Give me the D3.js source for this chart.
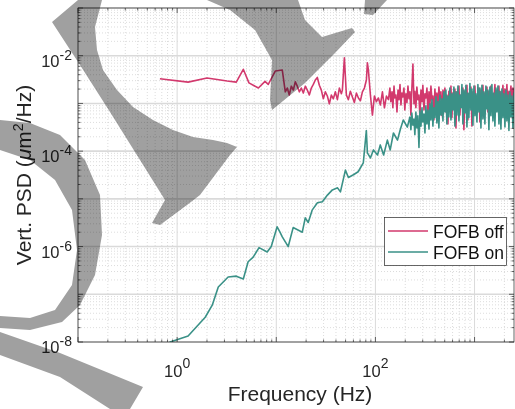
<!DOCTYPE html>
<html>
<head>
<meta charset="utf-8">
<script src="https://cdn.jsdelivr.net/npm/d3@7"></script>
<style>
  html, body { margin: 0; padding: 0; background: #fff; }
  svg { display: block; font-family: 'Liberation Sans', Arial, sans-serif; }
</style>
</head>
<body>
<div id="chart"></div>
<script>
// [frequency (Hz), PSD (um^2/Hz)], low/mid band
const offLow = [
  [0.67, 3.3e-3], [1.29, 2.8e-3], [2.0, 3.4e-3], [3.2, 2.95e-3], [3.95, 2.8e-3],
  [4.65, 5.2e-3], [5.3, 2.7e-3], [6.6, 2.1e-3], [7.7, 2.9e-3], [8.3, 2.5e-3],
  [9.8, 4.8e-3], [11.5, 5.0e-3],
  [12.33, 1.75e-3], [12.92, 2.1e-3], [13.53, 1.5e-3], [14.18, 2.3e-3], [14.85, 1.9e-3],
  [15.56, 2.85e-3], [16.3, 2.3e-3], [17.08, 1.75e-3], [17.88, 2.1e-3], [18.74, 1.65e-3],
  [19.63, 2.3e-3], [20.56, 1.9e-3], [21.54, 1.5e-3], [22.57, 2.1e-3], [23.64, 2.5e-3],
  [24.77, 3.1e-3], [25.95, 3.5e-3], [27.19, 2.4e-3], [28.48, 1.9e-3], [29.84, 1.25e-3],
  [31.26, 1.75e-3], [32.75, 1.43e-3], [34.31, 9.8e-4], [35.94, 1.5e-3], [37.65, 1.25e-3],
  [39.45, 1.75e-3], [41.33, 1.2e-3], [43.29, 2.1e-3], [45.36, 1.6e-3], [46.42, 1.9e-3],
  [48.63, 9.0e-3], [50.95, 1.5e-3], [53.37, 1.2e-3], [55.91, 1.8e-3], [58.58, 1.37e-3],
  [61.37, 1.05e-3], [64.29, 1.65e-3], [67.35, 1.3e-3], [70.56, 1.14e-3], [73.92, 1.75e-3],
  [77.43, 2.1e-3], [81.11, 3.1e-3], [83.02, 7.1e-3], [84.98, 5.0e-3], [89.02, 1.5e-3],
  [93.26, 5.7e-4], [97.7, 1.43e-3], [102.35, 1.09e-3], [107.2, 1.3e-3], [112.3, 9.3e-4],
  [117.7, 1.75e-3], [123.3, 8.1e-4], [129.2, 1.43e-3], [135.3, 1.2e-3]
];
const onLow = [
  [0.67, 5e-9], [0.85, 1.0e-8], [1.29, 1.34e-8], [1.92, 3.3e-8], [2.26, 5.9e-8],
  [2.6, 1.42e-7], [3.27, 2.3e-7], [3.95, 2.4e-7], [4.65, 2.1e-7], [5.2, 4.8e-7],
  [5.85, 6.0e-7], [6.7, 9.5e-7], [8.1, 7.7e-7], [8.9, 1.0e-6], [10.2, 2.6e-6],
  [10.9, 2.0e-6], [11.5, 1.6e-6], [13.2, 1.0e-6], [14.8, 2.5e-6], [18.3, 2.0e-6],
  [19.6, 4.0e-6], [21.0, 3.2e-6], [23.0, 5.8e-6], [26.0, 8.3e-6], [29.2, 8.7e-6],
  [32.8, 1.2e-5], [36.8, 1.54e-5], [41.5, 1.7e-5], [44.4, 1.4e-5], [49.8, 4.0e-5],
  [53.4, 2.8e-5], [60, 3.2e-5], [67, 3.7e-5], [75.5, 5.7e-5], [81, 2.7e-4],
  [83, 9.2e-5], [89, 7.2e-5], [95.5, 1.06e-4], [105, 8.3e-5], [112, 1.35e-4],
  [121, 8.3e-5], [132, 1.7e-4], [141, 1.06e-4], [152, 2.4e-4], [167, 1.7e-4],
  [178, 2.8e-4], [191, 4.5e-4], [210, 3.2e-4]
];

// dense high-frequency part: shared bins (Hz) and PSD per series
const hfFreq = [
  140, 143, 147, 150, 154, 157, 161, 165, 169, 173,
  177, 181, 185, 189, 194, 198, 203, 208, 213, 218,
  223, 228, 233, 239, 245, 250, 256, 262, 268, 275,
  281, 288, 295, 301, 309, 316, 323, 331, 339, 347,
  355, 363, 372, 380, 389, 398, 408, 417, 427, 437,
  447, 458, 469, 480, 491, 502, 514, 526, 539, 551,
  564, 578, 591, 605, 619, 634, 649, 664, 680, 696,
  712, 729, 746, 763, 781, 800, 818, 838, 857, 877,
  898, 919, 941, 963, 986, 1009, 1032, 1057, 1081, 1107,
  1133, 1160, 1187, 1215, 1243, 1272, 1302, 1333, 1364, 1396,
  1429, 1463, 1497, 1532, 1568, 1605, 1643, 1682, 1721, 1762,
  1803, 1845, 1889, 1933, 1979, 2025, 2073, 2121, 2171, 2222,
  2274, 2328, 2383, 2439, 2496, 2555, 2615
];
const offHf = [
  2.1e-3, 1.09e-3, 1.75e-3, 8.1e-4, 2.3e-3, 1.3e-3, 1.5e-3, 6.6e-4, 1.9e-3, 1.2e-3,
  2.5e-3, 9.3e-4, 1.65e-3, 1.37e-3, 2.1e-3, 7.3e-4, 1.6e-3, 1.05e-3, 2.3e-3, 1.25e-3,
  1.75e-3, 5.7e-4, 2.0e-3, 6.7e-3, 9.8e-4, 1.8e-3, 8.1e-4, 2.2e-3, 1.2e-3, 1.5e-3,
  5.0e-4, 1.9e-3, 1.09e-3, 2.4e-3, 7.3e-4, 1.6e-3, 1.3e-3, 2.1e-3, 6.3e-4, 1.75e-3,
  9.3e-4, 2.3e-3, 1.2e-3, 1.43e-3, 4.5e-4, 2.0e-3, 1.05e-3, 1.65e-3, 7.3e-4, 2.2e-3,
  1.25e-3, 1.75e-3, 5.5e-4, 1.9e-3, 9.8e-4, 2.1e-3, 6.6e-4, 1.5e-3, 3.7e-4, 1.8e-3,
  8.9e-4, 2.3e-3, 5.0e-4, 1.65e-3, 1.14e-3, 2.0e-3, 3.05e-4, 1.75e-3, 7.7e-4, 2.3e-3,
  5.7e-4, 1.5e-3, 9.8e-4, 2.1e-3, 2.8e-4, 1.8e-3, 7.3e-4, 2.4e-3, 4.5e-4, 1.6e-3,
  1.09e-3, 2.2e-3, 3.35e-4, 1.75e-3, 8.1e-4, 2.3e-3, 6.0e-4, 1.43e-3, 1.2e-3, 2.1e-3,
  4.1e-4, 1.9e-3, 9.3e-4, 2.4e-3, 5.2e-4, 1.65e-3, 1.25e-3, 2.2e-3, 6.6e-4, 1.8e-3,
  1.05e-3, 2.3e-3, 7.3e-4, 1.6e-3, 1.3e-3, 2.5e-3, 8.1e-4, 1.9e-3, 1.14e-3, 2.3e-3,
  6.6e-4, 1.75e-3, 1.25e-3, 2.4e-3, 8.9e-4, 2.0e-3, 1.09e-3, 2.5e-3, 7.7e-4, 1.8e-3,
  1.37e-3, 2.3e-3, 9.8e-4, 2.1e-3, 1.2e-3, 2.4e-3, 1.05e-3
];
// FOFB on dense part starts at the 223 Hz bin
const onHf = [
  5.2e-4, 2.8e-4, 6.3e-4, 3.5e-4, 4.7e-4, 2.2e-4, 6.6e-4, 3.05e-4, 5.5e-4, 1.2e-4,
  7.0e-4, 3.35e-4, 8.1e-4, 4.1e-4, 6.0e-4, 2.4e-4, 8.9e-4, 3.7e-4, 7.3e-4, 2.9e-4,
  9.8e-4, 4.5e-4, 1.2e-3, 3.35e-4, 8.1e-4, 5.0e-4, 1.37e-3, 3.9e-4, 1.09e-3, 3.05e-4,
  1.5e-3, 5.7e-4, 1.25e-3, 4.3e-4, 1.75e-3, 6.6e-4, 1.9e-3, 3.7e-4, 1.43e-3, 5.2e-4,
  2.1e-3, 4.5e-4, 1.6e-3, 7.3e-4, 2.2e-3, 3.35e-4, 1.75e-3, 5.7e-4, 2.3e-3, 4.3e-4,
  1.5e-3, 8.1e-4, 2.5e-3, 3.7e-4, 1.9e-3, 6.3e-4, 2.4e-3, 3.2e-4, 1.65e-3, 5.0e-4,
  2.6e-3, 7.3e-4, 2.0e-3, 3.5e-4, 2.3e-3, 5.5e-4, 1.6e-3, 4.1e-4, 2.5e-3, 6.6e-4,
  2.1e-3, 3.05e-4, 2.4e-3, 4.7e-4, 1.75e-3, 3.7e-4, 2.3e-3, 7.7e-4, 1.9e-3, 2.8e-4,
  2.2e-3, 5.5e-4, 2.5e-3, 4.3e-4, 1.65e-3, 3.35e-4, 2.1e-3, 6.6e-4, 2.3e-3, 3.7e-4,
  1.8e-3, 2.9e-4, 2.0e-3, 5.0e-4, 1.6e-3, 3.2e-4, 1.9e-3, 4.3e-4, 1.5e-3, 2.7e-4,
  1.75e-3, 5.2e-4, 1.43e-3, 3.05e-4, 1.65e-3, 4.1e-4, 1.37e-3
];

const seriesNames = ['FOFB off', 'FOFB on'];
const seriesColors = ['#d2396d', '#3a9187'];
const xTickExps = [0, 2];
const yTickExps = [-8, -6, -4, -2];

const fofbOff = offLow.concat(hfFreq.map((f, i) => [f, offHf[i]]));
const fofbOn = onLow.concat(hfFreq.slice(20).map((f, i) => [f, onHf[i]]));

const W = 515, H = 409;
const plot = { left: 78, right: 514, top: 8, bottom: 342 };
const ink = '#262626';

const svg = d3.select('#chart').append('svg')
  .attr('width', W).attr('height', H);

const x = d3.scaleLog().domain([0.1, 2500]).range([plot.left, plot.right]);
const y = d3.scaleLog().domain([1e-8, 1e-1]).range([plot.bottom, plot.top]);

// decade + minor grid positions
function logGrid(lo, hi) {
  const major = [], minor = [];
  for (let e = Math.floor(Math.log10(lo)); e <= Math.ceil(Math.log10(hi)); e++) {
    for (let k = 1; k < 10; k++) {
      const v = k * Math.pow(10, e);
      if (v < lo * 0.999 || v > hi * 1.001) continue;
      (k === 1 ? major : minor).push(v);
    }
  }
  return { major, minor };
}
const xg = logGrid(0.1, 2500);
const yg = logGrid(1e-8, 1e-1);

const grid = svg.append('g').attr('class', 'grid');
grid.selectAll('line.xminor').data(xg.minor).join('line')
  .attr('x1', d => x(d)).attr('x2', d => x(d))
  .attr('y1', plot.top).attr('y2', plot.bottom)
  .attr('stroke', '#cdcdcd').attr('stroke-width', 0.7).attr('stroke-dasharray', '1 2');
grid.selectAll('line.yminor').data(yg.minor).join('line')
  .attr('x1', plot.left).attr('x2', plot.right)
  .attr('y1', d => y(d)).attr('y2', d => y(d))
  .attr('stroke', '#cdcdcd').attr('stroke-width', 0.7).attr('stroke-dasharray', '1 2');
grid.selectAll('line.xmajor').data(xg.major).join('line')
  .attr('x1', d => x(d)).attr('x2', d => x(d))
  .attr('y1', plot.top).attr('y2', plot.bottom)
  .attr('stroke', '#dadada').attr('stroke-width', 1);
grid.selectAll('line.ymajor').data(yg.major).join('line')
  .attr('x1', plot.left).attr('x2', plot.right)
  .attr('y1', d => y(d)).attr('y2', d => y(d))
  .attr('stroke', '#dadada').attr('stroke-width', 1.6);

// data lines
svg.append('clipPath').attr('id', 'clip').append('rect')
  .attr('x', plot.left).attr('y', plot.top)
  .attr('width', plot.right - plot.left).attr('height', plot.bottom - plot.top);

const line = d3.line().x(d => x(d[0])).y(d => y(d[1]));
svg.append('g').attr('clip-path', 'url(#clip)')
  .selectAll('path').data([fofbOff, fofbOn]).join('path')
  .attr('d', line)
  .attr('fill', 'none')
  .attr('stroke', (d, i) => seriesColors[i])
  .attr('stroke-width', 1.6)
  .attr('stroke-linejoin', 'round');

// axes box and inward ticks on all four sides
const axes = svg.append('g').attr('stroke', ink).attr('stroke-width', 0.7);
axes.append('rect')
  .attr('x', plot.left).attr('y', plot.top)
  .attr('width', plot.right - plot.left).attr('height', plot.bottom - plot.top)
  .attr('fill', 'none');
const xt = xg.major.map(v => ({ v, len: 5 })).concat(xg.minor.map(v => ({ v, len: 2.5 })));
const yt = yg.major.map(v => ({ v, len: 5 })).concat(yg.minor.map(v => ({ v, len: 2.5 })));
axes.selectAll('line.xtb').data(xt).join('line')
  .attr('x1', d => x(d.v)).attr('x2', d => x(d.v))
  .attr('y1', plot.bottom).attr('y2', d => plot.bottom - d.len);
axes.selectAll('line.xtt').data(xt).join('line')
  .attr('x1', d => x(d.v)).attr('x2', d => x(d.v))
  .attr('y1', plot.top).attr('y2', d => plot.top + d.len);
axes.selectAll('line.ytl').data(yt).join('line')
  .attr('y1', d => y(d.v)).attr('y2', d => y(d.v))
  .attr('x1', plot.left).attr('x2', d => plot.left + d.len);
axes.selectAll('line.ytr').data(yt).join('line')
  .attr('y1', d => y(d.v)).attr('y2', d => y(d.v))
  .attr('x1', plot.right).attr('x2', d => plot.right - d.len);

// tick labels as 10^n
const yLab = svg.append('g').selectAll('text').data(yTickExps).join('text')
  .attr('x', plot.left - 6).attr('y', d => y(Math.pow(10, d)) + 11)
  .attr('text-anchor', 'end').attr('fill', ink).attr('font-size', 16.5);
yLab.append('tspan').text('10');
yLab.append('tspan').attr('dy', -7).attr('font-size', 14).text(d => d);

const xLab = svg.append('g').selectAll('text').data(xTickExps).join('text')
  .attr('x', d => x(Math.pow(10, d))).attr('y', plot.bottom + 35)
  .attr('text-anchor', 'middle').attr('fill', ink).attr('font-size', 16.5);
xLab.append('tspan').text('10');
xLab.append('tspan').attr('dy', -9).attr('font-size', 14).text(d => d);

// axis titles
svg.append('text')
  .attr('x', 300).attr('y', 401)
  .attr('text-anchor', 'middle').attr('fill', ink).attr('font-size', 21)
  .text('Frequency (Hz)');

const yTitle = svg.append('text')
  .attr('transform', 'translate(31,175) rotate(-90)')
  .attr('text-anchor', 'middle').attr('fill', ink).attr('font-size', 21);
yTitle.append('tspan').text('Vert. PSD (');
yTitle.append('tspan').attr('font-style', 'italic').text('\u03bc');
yTitle.append('tspan').text('m');
yTitle.append('tspan').attr('dy', -8).attr('font-size', 14).text('2');
yTitle.append('tspan').attr('dy', 8).text('/Hz)');

// legend
const legend = svg.append('g');
legend.append('rect')
  .attr('x', 384.5).attr('y', 217.5).attr('width', 122).attr('height', 48)
  .attr('fill', '#fff').attr('stroke', ink).attr('stroke-width', 0.7);
const items = legend.selectAll('g.item').data(seriesNames).join('g')
  .attr('transform', (d, i) => `translate(0, ${231 + i * 21})`);
items.append('line')
  .attr('x1', 388).attr('x2', 428).attr('y1', 0).attr('y2', 0)
  .attr('stroke', (d, i) => seriesColors[i]).attr('stroke-width', 1.4);
items.append('text')
  .attr('x', 433).attr('y', 7).attr('fill', '#111').attr('font-size', 17.5)
  .text(d => d);

// grey scribble laid over the figure
const blobs = [
  [[78,0],[102,0],[95,27],[97,50],[103,70],[117,90],[133,107],[153,120],[173,130],[193,137],
   [213,140],[227,143],[237,147],[230,155],[215,175],[200,195],[187,205],[160,225],[152,223],
   [165,200],[140,160],[110,112],[80,65],[52,22]],
  [[207,0],[298,0],[305,20],[322,37],[352,28],[355,32],[335,53],[305,83],[272,110],[270,100],
   [272,60],[255,30],[230,10]],
  [[365,0],[387,0],[373,15],[364,14]],
  [[0,120],[30,123],[60,135],[85,160],[100,195],[102,235],[95,275],[80,305],[62,322],[30,330],
   [0,328],[0,316],[30,318],[55,310],[72,285],[77,250],[72,210],[55,180],[30,160],[0,150]],
  [[0,332],[60,353],[143,387],[130,409],[110,409],[60,377],[0,355]]
];
svg.append('g').style('mix-blend-mode', 'multiply')
  .selectAll('path').data(blobs).join('path')
  .attr('d', d => 'M' + d.join('L') + 'Z')
  .attr('fill', '#a0a0a0');
</script>
</body>
</html>
